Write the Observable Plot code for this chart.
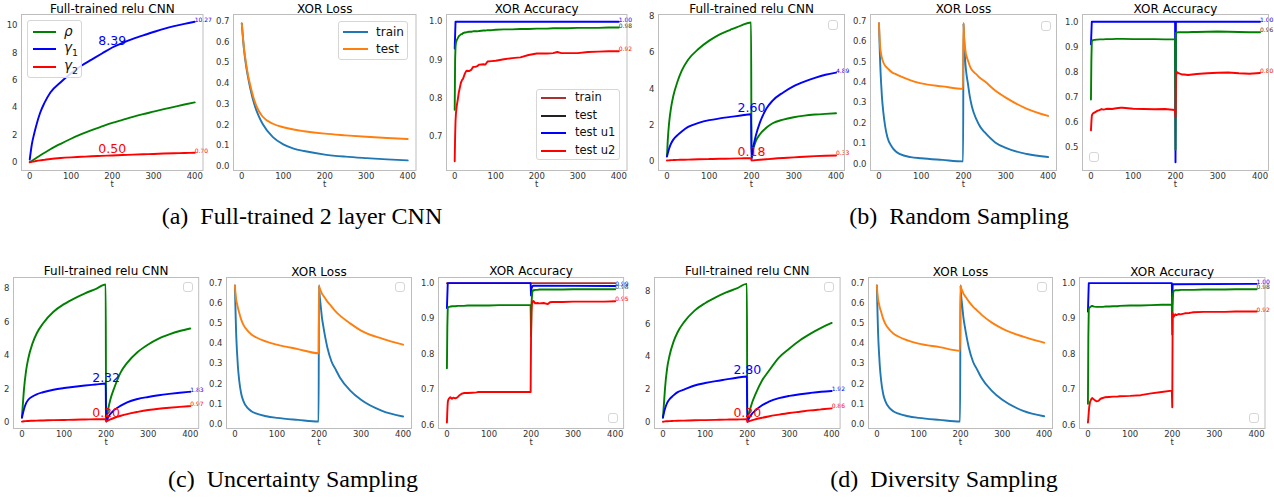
<!DOCTYPE html>
<html><head><meta charset="utf-8">
<script src="https://cdn.jsdelivr.net/npm/d3@7"></script>
<script src="https://cdn.jsdelivr.net/npm/@observablehq/plot@0.6"></script>
<style>
body{margin:0;background:#fff;}
#root{position:relative;width:1274px;height:498px;overflow:hidden;background:#fff;}
.cap{position:absolute;font-family:"Liberation Serif","Times New Roman",serif;font-size:24px;white-space:pre;color:#000;transform:translate(-50%,-50%);}
.leg{position:absolute;border:1px solid #d6d6d6;border-radius:3px;background:rgba(255,255,255,0.85);box-sizing:border-box;}
.lline{position:absolute;height:2px;}
.ltxt{position:absolute;font-family:"DejaVu Sans",sans-serif;color:#111;transform:translateY(-50%);white-space:nowrap;line-height:1;}
</style></head><body><div id="root"></div>
<script>
// ---------- shared time grids ----------
const tCnnA = [0,5,10,15,25,35,50,75,100,125,150,175,200,225,250,275,300,325,350,375,400];
const tCnn = [0,2,5,10,15,25,35,50,75,100,125,150,175,199,200,202,205,210,220,235,250,275,300,325,350,375,400];
const tLossA = [0,2,5,10,15,20,30,40,50,75,100,125,150,200,250,300,350,400];
const tLoss = [0,1,2,3,5,7,10,15,20,30,40,50,75,100,150,199,200,201,202,203,205,207,210,215,220,230,240,250,275,300,350,400];
const tAccA = [0,1,2,3,5,8,10,13,15,18,20,25,28,30,35,40,45,50,55,60,70,75,80,90,100,120,140,160,180,200,225,240,250,260,275,300,325,350,375,400];
const tAcc = [0,1,2,3,5,8,10,12,15,20,25,30,35,40,50,60,70,75,100,125,150,175,199,200,201,202,203,205,207,210,215,220,230,240,245,250,275,300,325,350,375,400];
const xTicks = [0,100,200,300,400];

// ---------- (a) full-trained ----------
const aRho = [0,0.1,0.2,0.3,0.5,0.68,0.95,1.35,1.72,2.05,2.35,2.62,2.88,3.1,3.32,3.52,3.7,3.88,4.05,4.22,4.38];
const aG1 = [0.2,1.3,2.0,2.6,3.6,4.3,5.1,5.85,6.5,7.05,7.5,7.95,8.39,8.72,9.02,9.28,9.52,9.75,9.95,10.12,10.27];
const aG2 = [0,0.03,0.06,0.09,0.14,0.18,0.24,0.31,0.36,0.40,0.44,0.47,0.50,0.53,0.56,0.59,0.61,0.64,0.66,0.68,0.70];
const aTrain = [0.69,0.64,0.57,0.49,0.43,0.38,0.30,0.245,0.205,0.14,0.105,0.085,0.073,0.056,0.046,0.039,0.033,0.028];
const aTest = [0.69,0.64,0.575,0.50,0.44,0.395,0.32,0.27,0.24,0.205,0.188,0.177,0.169,0.157,0.149,0.142,0.136,0.131];
const aU1T = [0,2,400];
const aU1 = [0.93,1,1];
const aAccTest = [0.77,0.90,0.935,0.945,0.952,0.958,0.962,0.965,0.967,0.968,0.97,0.972,0.972,0.973,0.974,0.974,0.975,0.975,0.975,0.976,0.977,0.977,0.978,0.978,0.979,0.98,0.98,0.981,0.981,0.982,0.982,0.983,0.983,0.983,0.983,0.984,0.984,0.984,0.985,0.985];
const aU2 = [0.635,0.70,0.74,0.76,0.78,0.80,0.815,0.83,0.84,0.848,0.85,0.865,0.871,0.872,0.871,0.874,0.882,0.882,0.884,0.888,0.889,0.888,0.896,0.897,0.898,0.902,0.905,0.907,0.913,0.917,0.917,0.918,0.921,0.918,0.918,0.918,0.921,0.922,0.923,0.923];

// ---------- (b) random sampling ----------
const bRho = [0.3,1.2,2.1,3.0,3.6,4.4,5.0,5.6,6.2,6.65,7.0,7.25,7.48,7.65,0.2,0.45,0.75,1.1,1.5,1.85,2.1,2.3,2.43,2.52,2.58,2.62,2.65];
const bG1 = [0.27,0.45,0.7,1.0,1.2,1.45,1.65,1.9,2.12,2.27,2.37,2.45,2.53,2.60,0.1,0.5,0.9,1.4,2.15,2.9,3.35,3.8,4.15,4.4,4.6,4.77,4.89];
const bG2 = [0.05,0.055,0.06,0.07,0.075,0.085,0.09,0.10,0.12,0.13,0.145,0.155,0.168,0.18,0.05,0.055,0.06,0.07,0.09,0.12,0.15,0.19,0.22,0.26,0.29,0.31,0.33];
const bTrain = [0.69,0.62,0.55,0.49,0.40,0.33,0.26,0.18,0.13,0.085,0.06,0.047,0.033,0.027,0.019,0.012,0.69,0.63,0.58,0.54,0.48,0.44,0.40,0.33,0.28,0.22,0.18,0.155,0.105,0.078,0.048,0.033];
const bTest = [0.69,0.64,0.6,0.57,0.54,0.52,0.5,0.48,0.47,0.45,0.44,0.43,0.41,0.395,0.38,0.368,0.69,0.64,0.61,0.585,0.55,0.53,0.51,0.48,0.46,0.44,0.42,0.405,0.36,0.325,0.27,0.235];
const bU1T = [0,2,199,200,201,400];
const bU1 = [0.91,1,1,0.44,1,1];
const bAccTest = [0.69,0.85,0.92,0.925,0.927,0.928,0.928,0.929,0.929,0.93,0.93,0.93,0.931,0.931,0.931,0.932,0.932,0.932,0.931,0.931,0.931,0.93,0.93,0.49,0.955,0.956,0.957,0.958,0.958,0.958,0.958,0.958,0.958,0.959,0.959,0.959,0.96,0.961,0.96,0.959,0.958,0.958];
const bU2 = [0.567,0.60,0.625,0.63,0.635,0.638,0.64,0.642,0.645,0.648,0.652,0.65,0.652,0.653,0.652,0.655,0.657,0.657,0.653,0.652,0.651,0.652,0.648,0.62,0.78,0.79,0.80,0.797,0.795,0.793,0.79,0.79,0.788,0.79,0.791,0.792,0.795,0.797,0.798,0.795,0.793,0.796];

// ---------- (c) uncertainty sampling ----------
const cRho = [0.3,1.0,2.0,3.1,3.8,4.7,5.3,5.9,6.6,7.05,7.4,7.7,7.95,8.22,0.1,0.4,0.8,1.35,2.1,3.0,3.55,4.2,4.65,5.0,5.25,5.45,5.6];
const cG1 = [0.28,0.5,0.8,1.15,1.35,1.55,1.68,1.8,1.95,2.05,2.13,2.2,2.26,2.32,0.05,0.15,0.3,0.5,0.75,1.0,1.2,1.4,1.52,1.62,1.7,1.77,1.83];
const cG2 = [0.05,0.06,0.07,0.08,0.09,0.1,0.11,0.12,0.14,0.15,0.165,0.18,0.19,0.2,0.05,0.08,0.12,0.18,0.28,0.4,0.5,0.63,0.74,0.82,0.88,0.93,0.97];
const cTrain = [0.69,0.6,0.52,0.45,0.36,0.29,0.22,0.15,0.115,0.08,0.062,0.052,0.038,0.03,0.02,0.012,0.69,0.66,0.63,0.61,0.57,0.53,0.49,0.43,0.38,0.31,0.27,0.23,0.165,0.12,0.065,0.037];
const cTest = [0.69,0.66,0.64,0.62,0.6,0.58,0.555,0.52,0.495,0.465,0.445,0.432,0.41,0.395,0.373,0.352,0.69,0.68,0.675,0.67,0.66,0.65,0.64,0.625,0.61,0.585,0.56,0.54,0.5,0.465,0.425,0.395];
const cTrAccT = [0,400];
const cTrAcc = [1,1];
const cU1T = [0,2,199,200,201,203,205,400];
const cU1 = [0.93,1,1,0.965,0.985,0.99,0.993,0.992];
const cAccTest = [0.76,0.88,0.93,0.932,0.933,0.934,0.934,0.935,0.935,0.935,0.936,0.936,0.936,0.936,0.937,0.937,0.937,0.937,0.937,0.938,0.938,0.938,0.938,0.85,0.94,0.96,0.975,0.98,0.98,0.981,0.981,0.982,0.982,0.982,0.982,0.982,0.982,0.983,0.983,0.983,0.983,0.983];
const cU2 = [0.607,0.64,0.664,0.67,0.675,0.678,0.676,0.674,0.677,0.675,0.678,0.684,0.688,0.69,0.69,0.691,0.692,0.693,0.693,0.693,0.693,0.693,0.693,0.85,0.92,0.94,0.945,0.95,0.948,0.943,0.944,0.943,0.944,0.941,0.946,0.947,0.947,0.948,0.948,0.948,0.948,0.949];

// ---------- (d) diversity sampling ----------
const dRho = [0.3,1.0,2.1,3.3,4.0,4.9,5.5,6.1,6.8,7.25,7.6,7.9,8.15,8.42,0.1,0.35,0.65,1.1,1.75,2.55,3.1,3.95,4.5,5.0,5.4,5.75,6.05];
const dG1 = [0.3,0.55,0.85,1.2,1.4,1.65,1.85,2.0,2.25,2.4,2.52,2.62,2.72,2.80,0.05,0.15,0.3,0.5,0.75,1.05,1.25,1.48,1.62,1.72,1.8,1.87,1.92];
const dG2 = [0.05,0.06,0.07,0.08,0.09,0.1,0.11,0.12,0.14,0.15,0.165,0.18,0.19,0.2,0.03,0.06,0.09,0.13,0.2,0.29,0.37,0.48,0.58,0.66,0.74,0.8,0.86];
const dTrain = [0.69,0.6,0.52,0.45,0.36,0.29,0.22,0.15,0.115,0.08,0.062,0.052,0.038,0.03,0.02,0.012,0.69,0.66,0.63,0.61,0.57,0.53,0.49,0.43,0.38,0.31,0.27,0.23,0.165,0.12,0.065,0.038];
const dTest = [0.69,0.66,0.64,0.62,0.6,0.58,0.56,0.525,0.5,0.47,0.45,0.437,0.415,0.4,0.383,0.365,0.69,0.68,0.675,0.67,0.66,0.65,0.64,0.625,0.61,0.585,0.565,0.545,0.505,0.475,0.435,0.405];
const dU1T = [0,2,199,200,201,400];
const dU1 = [0.92,1,1,0.94,0.997,0.998];
const dAccTest = [0.66,0.85,0.925,0.93,0.932,0.935,0.936,0.935,0.934,0.933,0.933,0.933,0.933,0.934,0.934,0.935,0.935,0.936,0.937,0.937,0.938,0.939,0.94,0.855,0.95,0.97,0.978,0.979,0.98,0.98,0.98,0.981,0.981,0.981,0.981,0.981,0.982,0.982,0.982,0.983,0.983,0.983];
const dU2 = [0.607,0.62,0.636,0.65,0.665,0.673,0.676,0.674,0.671,0.667,0.668,0.674,0.676,0.678,0.679,0.68,0.68,0.681,0.682,0.684,0.689,0.693,0.697,0.65,0.915,0.91,0.905,0.908,0.912,0.91,0.913,0.912,0.915,0.916,0.917,0.918,0.919,0.919,0.919,0.92,0.92,0.92];

// ---------- text ----------
const titles = ["Full-trained relu CNN","XOR Loss","XOR Accuracy"];
const captions = ["(a)  Full-trained 2 layer CNN","(b)  Random Sampling","(c)  Uncertainty Sampling","(d)  Diversity Sampling"];
const cnnLegend = ["ρ","γ1","γ2"];
const lossLegend = ["train","test"];
const accLegend = ["train","test","test u1","test u2"];

// ---------- colours ----------
const G="#008000", B="#0000ff", R="#ff0000", TB="#1f77b4", TO="#ff7f0e", BR="#a83232", DK="#333333";

const root = document.getElementById("root");
const ML=34, MR=34, MT=20, MB=28;
const mk = (t,y)=>t.map((tt,i)=>({t:tt,y:y[i]}));
const f1 = d3.format(".1f");

function panel(p){
  const w=p.right-p.left, h=p.bottom-p.top;
  const marks=[
    Plot.axisX({ticks:xTicks, tickSize:0, tickPadding:2, fill:DK, fontSize:8.5}),
    Plot.axisY({ticks:p.yticks, tickSize:0, tickPadding:4, tickFormat:p.fmt, fill:DK, fontSize:8.5}),
  ];
  for(const s of p.series){
    marks.push(Plot.line(mk(s.t,s.y),{x:"t",y:"y",stroke:s.c,strokeWidth:1.9,curve:p.curve}));
  }
  for(const a of (p.notes||[])){
    marks.push(Plot.text([a],{x:"t",y:"y",text:d=>d.s,fill:a.c,fontSize:a.big?12.5:6,
      textAnchor:a.big?"middle":"start",lineAnchor:"bottom",dy:a.big?-2:0}));
  }
  marks.push(Plot.frame({stroke:"#bdbdbd"}));
  marks.push(Plot.text([p.title],{text:d=>d,frameAnchor:"top",dy:-2,lineAnchor:"bottom",fontSize:12,fill:"#000"}));
  marks.push(Plot.text(["t"],{text:d=>d,frameAnchor:"bottom",dy:14,lineAnchor:"middle",fontSize:8.5,fill:DK}));
  const svg=Plot.plot({width:w+ML+MR,height:h+MT+MB,marginLeft:ML,marginRight:MR,marginTop:MT,marginBottom:MB,
    x:{domain:[-20,420],label:null}, y:{domain:p.ydom,label:null},
    style:{fontFamily:"DejaVu Sans",fontSize:"8.5px",background:"transparent",overflow:"visible"},
    marks});
  svg.style.position="absolute";
  svg.style.left=(p.left-ML)+"px";
  svg.style.top=(p.top-MT)+"px";
  root.appendChild(svg);
}

const cnnTicks8=[0,2,4,6,8], lossTicks=[0,0.1,0.2,0.3,0.4,0.5,0.6,0.7];
const fi = d=>String(d);

// Row 1
panel({left:21,right:202.5,top:14,bottom:170,title:titles[0],ydom:[-0.6,10.8],yticks:[0,2,4,6,8,10],fmt:fi,curve:"monotone-x",
  series:[{t:tCnnA,y:aRho,c:G},{t:tCnnA,y:aG1,c:B},{t:tCnnA,y:aG2,c:R}],
  notes:[{t:200,y:8.39,s:"8.39",c:B,big:1},{t:200,y:0.50,s:"0.50",c:R,big:1},{t:400,y:10.27,s:"10.27",c:B},{t:400,y:0.70,s:"0.70",c:R}]});
panel({left:232.5,right:415,top:14,bottom:170,title:titles[1],ydom:[-0.021,0.733],yticks:lossTicks,fmt:f1,curve:"monotone-x",
  series:[{t:tLossA,y:aTrain,c:TB},{t:tLossA,y:aTest,c:TO}]});
panel({left:446,right:626.5,top:14,bottom:170,title:titles[2],ydom:[0.611,1.019],yticks:[0.7,0.8,0.9,1.0],fmt:f1,curve:"linear",
  series:[{t:aU1T,y:aU1,c:B},{t:tAccA,y:aAccTest,c:G},{t:tAccA,y:aU2,c:R}],
  notes:[{t:400,y:1.0,s:"1.00",c:B},{t:400,y:0.985,s:"0.98",c:DK},{t:400,y:0.923,s:"0.92",c:R}]});
panel({left:657.5,right:843.5,top:14,bottom:170,title:titles[0],ydom:[-0.5,8.09],yticks:cnnTicks8,fmt:fi,curve:"monotone-x",
  series:[{t:tCnn,y:bRho,c:G},{t:tCnn,y:bG1,c:B},{t:tCnn,y:bG2,c:R}],
  notes:[{t:200,y:2.60,s:"2.60",c:B,big:1},{t:200,y:0.18,s:"0.18",c:R,big:1},{t:400,y:4.89,s:"4.89",c:B},{t:400,y:0.33,s:"0.33",c:R}]});
panel({left:870,right:1056,top:14,bottom:170,title:titles[1],ydom:[-0.033,0.733],yticks:lossTicks,fmt:f1,curve:"monotone-x",
  series:[{t:tLoss,y:bTrain,c:TB},{t:tLoss,y:bTest,c:TO}]});
panel({left:1082,right:1268,top:14,bottom:170,title:titles[2],ydom:[0.407,1.029],yticks:[0.5,0.6,0.7,0.8,0.9,1.0],fmt:f1,curve:"linear",
  series:[{t:bU1T,y:bU1,c:B},{t:tAcc,y:bAccTest,c:G},{t:tAcc,y:bU2,c:R}],
  notes:[{t:400,y:1.0,s:"1.00",c:B},{t:400,y:0.958,s:"0.96",c:DK},{t:400,y:0.796,s:"0.80",c:R}]});

// Row 2
panel({left:12.6,right:197.8,top:277,bottom:428,title:titles[0],ydom:[-0.36,8.64],yticks:cnnTicks8,fmt:fi,curve:"monotone-x",
  series:[{t:tCnn,y:cRho,c:G},{t:tCnn,y:cG1,c:B},{t:tCnn,y:cG2,c:R}],
  notes:[{t:200,y:2.32,s:"2.32",c:B,big:1},{t:200,y:0.20,s:"0.20",c:R,big:1},{t:400,y:1.83,s:"1.83",c:B},{t:400,y:0.97,s:"0.97",c:R}]});
panel({left:226,right:411,top:277,bottom:428,title:titles[1],ydom:[-0.023,0.73],yticks:lossTicks,fmt:f1,curve:"monotone-x",
  series:[{t:tLoss,y:cTrain,c:TB},{t:tLoss,y:cTest,c:TO}]});
panel({left:438.3,right:623.4,top:277,bottom:428,title:titles[2],ydom:[0.59,1.016],yticks:[0.6,0.7,0.8,0.9,1.0],fmt:f1,curve:"linear",
  series:[{t:cTrAccT,y:cTrAcc,c:BR},{t:cU1T,y:cU1,c:B},{t:tAcc,y:cAccTest,c:G},{t:tAcc,y:cU2,c:R}],
  notes:[{t:400,y:0.992,s:"0.99",c:B},{t:400,y:0.983,s:"0.98",c:DK},{t:400,y:0.949,s:"0.95",c:R}]});
panel({left:653.6,right:839.2,top:277,bottom:428,title:titles[0],ydom:[-0.36,8.81],yticks:cnnTicks8,fmt:fi,curve:"monotone-x",
  series:[{t:tCnn,y:dRho,c:G},{t:tCnn,y:dG1,c:B},{t:tCnn,y:dG2,c:R}],
  notes:[{t:200,y:2.80,s:"2.80",c:B,big:1},{t:200,y:0.20,s:"0.20",c:R,big:1},{t:400,y:1.92,s:"1.92",c:B},{t:400,y:0.86,s:"0.86",c:R}]});
panel({left:868,right:1052,top:277,bottom:428,title:titles[1],ydom:[-0.023,0.73],yticks:lossTicks,fmt:f1,curve:"monotone-x",
  series:[{t:tLoss,y:dTrain,c:TB},{t:tLoss,y:dTest,c:TO}]});
panel({left:1079,right:1264.5,top:277,bottom:428,title:titles[2],ydom:[0.59,1.016],yticks:[0.6,0.7,0.8,0.9,1.0],fmt:f1,curve:"linear",
  series:[{t:dU1T,y:dU1,c:B},{t:tAcc,y:dAccTest,c:G},{t:tAcc,y:dU2,c:R}],
  notes:[{t:400,y:0.998,s:"1.00",c:B},{t:400,y:0.983,s:"0.98",c:DK},{t:400,y:0.92,s:"0.92",c:R}]});

// ---------- legends (HTML overlays) ----------
function legend(x,y,w,h,rows,lx1,lx2,tx,fs){
  const box=document.createElement("div");
  box.className="leg";
  Object.assign(box.style,{left:x+"px",top:y+"px",width:w+"px",height:h+"px"});
  for(const r of (rows||[])){
    const ln=document.createElement("div");
    ln.className="lline";
    Object.assign(ln.style,{left:lx1+"px",width:(lx2-lx1)+"px",top:(r.y-1)+"px",background:r.c});
    box.appendChild(ln);
    const tx_=document.createElement("div");
    tx_.className="ltxt";
    Object.assign(tx_.style,{left:tx+"px",top:r.y+"px",fontSize:fs+"px"});
    tx_.innerHTML=r.html;
    box.appendChild(tx_);
  }
  root.appendChild(box);
}
const greek = s => "<i>"+s[0]+"</i>"+(s.length>1?"<sub style='font-size:70%'>"+s.slice(1)+"</sub>":"");
legend(27,20,55,58,[{y:10.7,c:G,html:greek(cnnLegend[0])},{y:28.3,c:B,html:greek(cnnLegend[1])},{y:46,c:R,html:greek(cnnLegend[2])}],5,28,36,13.5);
legend(338,20.5,70,39,[{y:10,c:TB,html:lossLegend[0]},{y:27.6,c:TO,html:lossLegend[1]}],4,29,37,12);
legend(535.5,89,84.5,70.5,[{y:8.4,c:BR,html:accLegend[0]},{y:25.7,c:"#222",html:accLegend[1]},{y:43.4,c:B,html:accLegend[2]},{y:60.7,c:R,html:accLegend[3]}],4,29,38.5,11.5);
// empty legends
for(const [x,y] of [[828,20],[1041,20.5],[1089,151.5],[183,282],[395,282],[608,413],[823.5,282],[1037,282],[1249,413]]){
  legend(x,y,10,10,[],0,0,0,0);
}

// ---------- captions ----------
const capPos=[[302,216],[959,216],[293,479],[944,479]];
captions.forEach((c,i)=>{
  const d=document.createElement("div");
  d.className="cap"; d.textContent=c;
  d.style.left=capPos[i][0]+"px"; d.style.top=capPos[i][1]+"px";
  root.appendChild(d);
});
</script></body></html>
